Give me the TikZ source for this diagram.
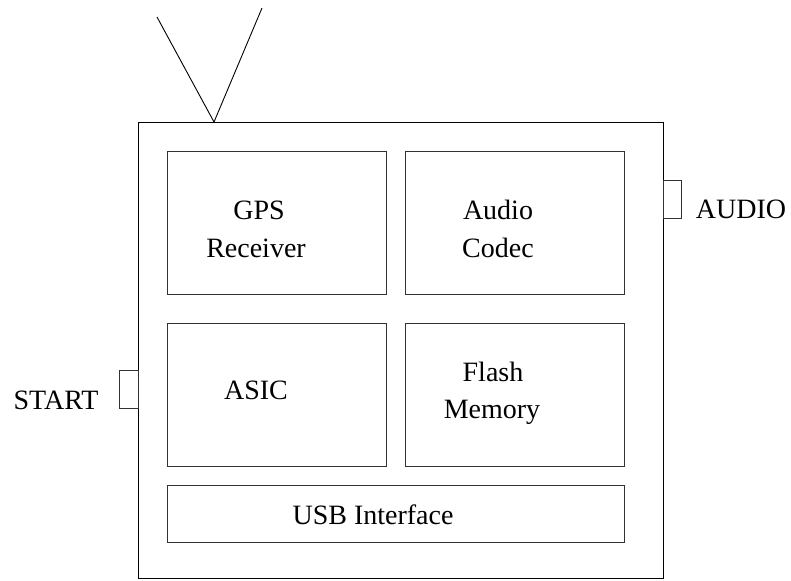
\documentclass[tikz,border=0pt]{standalone}
\usepackage{fontspec}
\setmainfont{Liberation Serif}
\begin{document}
\begin{tikzpicture}[x=1pt,y=-1pt,
  line width=0.9pt,
  box/.style={draw=black!80, rectangle, inner sep=0pt, anchor=north west},
  btn/.style={draw=black!80, rectangle, inner sep=0pt, anchor=north west},
  txt/.style={anchor=base, inner sep=0pt, font=\fontsize{28}{33}\selectfont}]
\useasboundingbox (0,0) rectangle (791,580);
% outer case
\node[draw=black, rectangle, inner sep=0pt, anchor=north west, minimum width=525pt, minimum height=456pt] (case) at (138,122) {};
% antenna
\coordinate (tipL) at (157,17);
\coordinate (tipR) at (262,8);
\coordinate (feed) at (214,122);
\draw (tipL) -- (feed) -- (tipR);
% inner blocks
\node[box, minimum width=219pt, minimum height=143pt] (gps) at (167,151) {};
\node[box, minimum width=219pt, minimum height=143pt] (codec) at (405,151) {};
\node[box, minimum width=219pt, minimum height=143pt] (asic) at (167,323) {};
\node[box, minimum width=219pt, minimum height=143pt] (flash) at (405,323) {};
\node[box, minimum width=457pt, minimum height=57pt] (usb) at (167,485) {};
% buttons
\node[btn, minimum width=19pt, minimum height=38pt] (startbtn) at (119,370) {};
\node[btn, minimum width=18pt, minimum height=38pt] (audiobtn) at (663,180) {};
% labels
\node[txt] (gpsA) at (259,219) {GPS};
\node[txt] (gpsB) at (256,257) {Receiver};
\node[txt] (codecA) at (498,219) {Audio};
\node[txt] (codecB) at (498,257) {Codec};
\node[txt] (asicA) at (256,399) {ASIC};
\node[txt] (flashA) at (493,381) {Flash};
\node[txt] (flashB) at (492,418) {Memory};
\node[txt] (usbA) at (373,524) {USB Interface};
\node[txt] (startA) at (56,409) {START};
\node[txt] (audioA) at (741,218) {AUDIO};
\end{tikzpicture}
\end{document}
